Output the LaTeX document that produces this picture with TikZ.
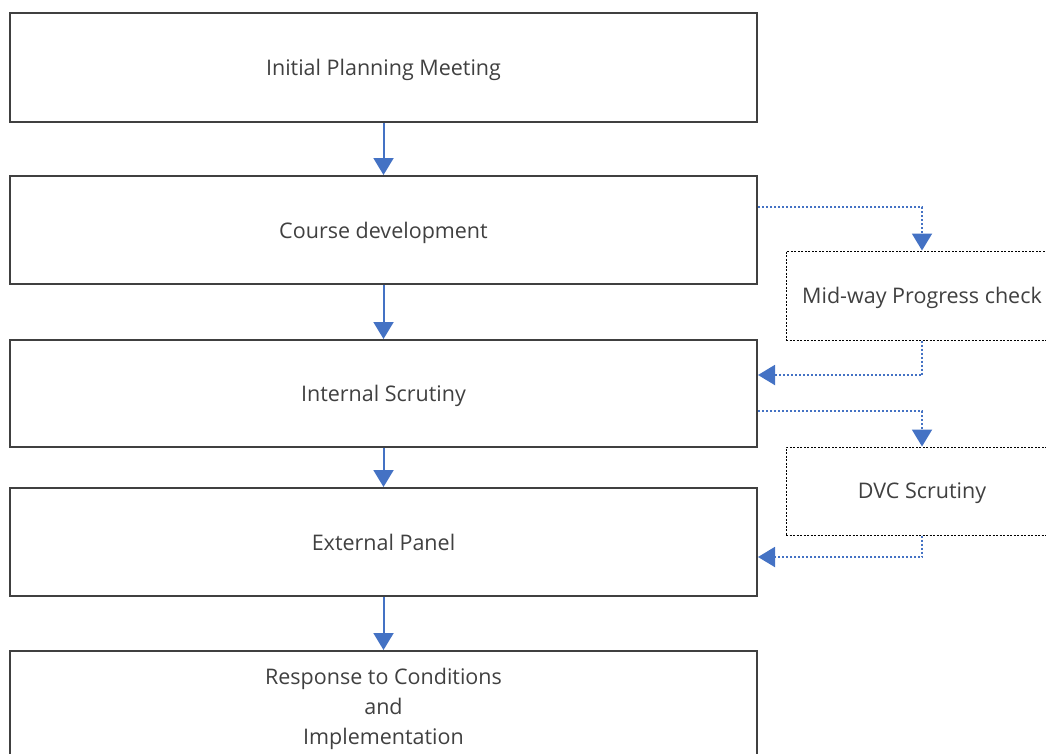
\documentclass[tikz,border=0pt]{standalone}
\usepackage{fontspec}
\setmainfont{Open Sans}
\usetikzlibrary{arrows.meta}
\definecolor{boxline}{HTML}{404040}
\definecolor{txt}{HTML}{404040}
\definecolor{arrowblue}{HTML}{4472C4}
\begin{document}
\begin{tikzpicture}[x=1pt,y=-1pt,
  mainbox/.style={draw=boxline,line width=2pt,minimum width=747pt,inner sep=0pt,text depth=0pt,text=txt,align=center,font=\fontsize{21.5}{30}\selectfont},
  sidebox/.style={draw=black,dash pattern=on 2pt off 1.5pt,line width=1pt,minimum width=272pt,inner sep=0pt,text depth=0pt,text=txt,font=\fontsize{21.5}{30}\selectfont},
  flow/.style={draw=arrowblue,line width=2pt,-{Triangle[width=20pt,length=17pt]}},
  dflow/.style={draw=arrowblue,line width=2pt,dash pattern=on 2pt off 2pt,-{Triangle[width=20pt,length=17pt]}}]
\useasboundingbox (0,0) rectangle (1046,753);
\node[mainbox,minimum height=109pt] (a) at (383.5,67.5) {Initial Planning Meeting};
\node[mainbox,minimum height=108pt] (b) at (383.5,230) {Course development};
\node[mainbox,minimum height=107pt] (c) at (383.5,393.5) {Internal Scrutiny};
\node[mainbox,minimum height=108pt] (d) at (383.5,542) {External Panel};
\node[mainbox,minimum height=110pt] (e) at (383.5,706) {Response to Conditions\\and\\Implementation};
\node[sidebox,minimum height=89pt] (m) at (922,295.5) {Mid-way Progress check};
\node[sidebox,minimum height=88pt] (v) at (922,491) {DVC Scrutiny};
\draw[flow] (a.south) -- (b.north);
\draw[flow] (b.south) -- (c.north);
\draw[flow] (c.south) -- (d.north);
\draw[flow] (d.south) -- (e.north);
\draw[dflow] (b.east |- 0,207) -| (m.north);
\draw[dflow] (m.south) |- (c.east |- 0,375);
\draw[dflow] (c.east |- 0,411) -| (v.north);
\draw[dflow] (v.south) |- (d.east |- 0,557);
\end{tikzpicture}
\end{document}
